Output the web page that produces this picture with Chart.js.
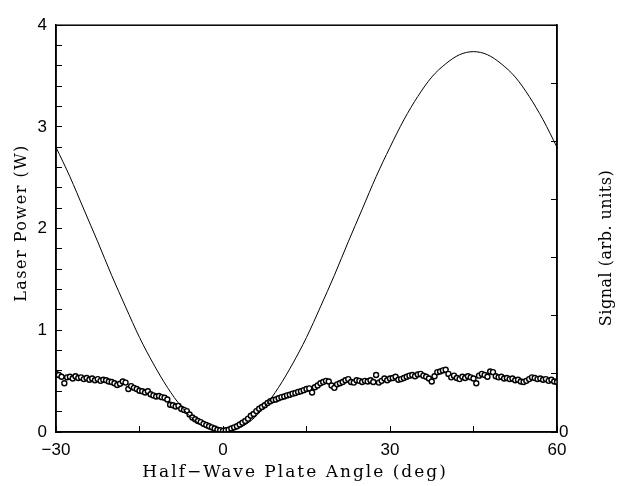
<!DOCTYPE html>
<html>
<head>
<meta charset="utf-8">
<script src="https://cdn.jsdelivr.net/npm/chart.js@4/dist/chart.umd.min.js"></script>
<style>
  html, body { margin: 0; padding: 0; background: #fff; }
  canvas { display: block; }
</style>
</head>
<body>
<canvas id="chart" width="623" height="486"></canvas>
<script>
// Laser power curve (left axis, W)
const powerAngle = [-30, -27.5, -25, -22.5, -20, -17.5, -15, -12.5, -10, -7.5, -5, -2.5, 0,
  2.5, 5, 7.5, 10, 12.5, 15, 17.5, 20, 22.5, 25, 27.5, 30, 32.5, 35, 37.5, 40, 42.5, 45,
  47.5, 50, 52.5, 55, 57.5, 60];
const powerValue = [2.80, 2.51, 2.19, 1.87, 1.54, 1.23, 0.93, 0.67, 0.44, 0.25, 0.11, 0.03, 0.0,
  0.03, 0.11, 0.25, 0.44, 0.67, 0.93, 1.23, 1.54, 1.87, 2.19, 2.51, 2.80, 3.07, 3.30, 3.49, 3.62, 3.71, 3.74,
  3.71, 3.62, 3.49, 3.30, 3.07, 2.80];

// Signal points (right axis, arb. units)
const signalAngle = [
  -30, -29.5, -29, -28.5, -28, -27.5, -27, -26.5, -26, -25.5,
  -25, -24.5, -24, -23.5, -23, -22.5, -22, -21.5, -21, -20.5,
  -20, -19.5, -19, -18.5, -18, -17.5, -17, -16.5, -16, -15.5,
  -15, -14.5, -14, -13.5, -13, -12.5, -12, -11.5, -11, -10.5,
  -10, -9.5, -9, -8.5, -8, -7.5, -7, -6.5, -6, -5.5,
  -5, -4.5, -4, -3.5, -3, -2.5, -2, -1.5, -1, -0.5,
  0, 0.5, 1, 1.5, 2, 2.5, 3, 3.5, 4, 4.5,
  5, 5.5, 6, 6.5, 7, 7.5, 8, 8.5, 9, 9.5,
  10, 10.5, 11, 11.5, 12, 12.5, 13, 13.5, 14, 14.5,
  15, 15.5, 16, 16.5, 17, 17.5, 18, 18.5, 19, 19.5,
  20, 20.5, 21, 21.5, 22, 22.5, 23, 23.5, 24, 24.5,
  25, 25.5, 26, 26.5, 27, 27.5, 28, 28.5, 29, 29.5,
  30, 30.5, 31, 31.5, 32, 32.5, 33, 33.5, 34, 34.5,
  35, 35.5, 36, 36.5, 37, 37.5, 38, 38.5, 39, 39.5,
  40, 40.5, 41, 41.5, 42, 42.5, 43, 43.5, 44, 44.5,
  45, 45.5, 46, 46.5, 47, 47.5, 48, 48.5, 49, 49.5,
  50, 50.5, 51, 51.5, 52, 52.5, 53, 53.5, 54, 54.5,
  55, 55.5, 56, 56.5, 57, 57.5, 58, 58.5, 59, 59.5, 60];
const signalValue = [
  1.00, 0.98, 0.95, 0.84, 0.94, 0.95, 0.92, 0.96, 0.93, 0.94,
  0.91, 0.93, 0.90, 0.92, 0.89, 0.91, 0.88, 0.90, 0.89, 0.87,
  0.86, 0.84, 0.81, 0.83, 0.87, 0.85, 0.74, 0.79, 0.76, 0.74,
  0.71, 0.70, 0.68, 0.70, 0.65, 0.63, 0.61, 0.62, 0.60, 0.59,
  0.56, 0.47, 0.46, 0.44, 0.45, 0.40, 0.38, 0.36, 0.30, 0.25,
  0.22, 0.19, 0.17, 0.14, 0.12, 0.10, 0.08, 0.06, 0.04, 0.03,
  0.02, 0.03, 0.04, 0.06, 0.08, 0.10, 0.13, 0.16, 0.19, 0.23,
  0.28, 0.31, 0.36, 0.40, 0.43, 0.46, 0.50, 0.53, 0.55, 0.56,
  0.58, 0.60, 0.61, 0.63, 0.64, 0.66, 0.67, 0.69, 0.70, 0.72,
  0.74, 0.75, 0.68, 0.77, 0.80, 0.84, 0.86, 0.88, 0.87, 0.80,
  0.76, 0.82, 0.84, 0.86, 0.89, 0.91, 0.86, 0.85, 0.89, 0.88,
  0.86, 0.88, 0.87, 0.89, 0.86, 0.98, 0.85, 0.88, 0.92, 0.89,
  0.92, 0.93, 0.95, 0.90, 0.91, 0.93, 0.95, 0.97, 0.98, 0.96,
  0.99, 1.00, 0.97, 0.95, 0.92, 0.87, 0.96, 1.03, 1.04, 1.06,
  1.07, 1.00, 0.94, 0.97, 0.93, 0.91, 0.95, 0.93, 0.96, 0.94,
  0.92, 0.84, 0.97, 1.00, 0.98, 0.95, 1.04, 1.03, 0.96, 0.94,
  0.95, 0.92, 0.93, 0.91, 0.92, 0.89, 0.90, 0.87, 0.86, 0.88,
  0.91, 0.94, 0.93, 0.91, 0.92, 0.90, 0.91, 0.88, 0.90, 0.87, 0.86];

const xLabels = [-30, 0, 30, 60];
const leftLabels = [0, 1, 2, 3, 4];
const rightLabels = [0];

const tickFont = { family: 'Liberation Sans', size: 17 };

// Axis titles drawn by hand so they can be letter-spaced like the original
const titles = [
  { text: 'Half\u2212Wave Plate Angle (deg)', x: 295, y: 473, rot: 0, size: 17, spacing: '2px' },
  { text: 'Laser Power (W)', x: 22, y: 223, rot: -Math.PI / 2, size: 16, spacing: '1.5px' },
  { text: 'Signal (arb. units)', x: 607, y: 248, rot: -Math.PI / 2, size: 16, spacing: '0.5px' }
];

const framePlugin = {
  id: 'frame',
  afterDraw(chart) {
    const { ctx, chartArea: a } = chart;
    ctx.save();
    ctx.strokeStyle = '#000';
    ctx.lineWidth = 1.5;
    ctx.strokeRect(a.left, a.top, a.right - a.left, a.bottom - a.top);
    ctx.restore();
    titles.forEach(t => {
      ctx.save();
      ctx.translate(t.x, t.y);
      ctx.rotate(t.rot);
      ctx.fillStyle = '#000';
      ctx.font = t.size + 'px "DejaVu Serif"';
      ctx.letterSpacing = t.spacing;
      ctx.textAlign = 'center';
      ctx.textBaseline = 'middle';
      ctx.fillText(t.text, 0, 0);
      ctx.restore();
    });
  }
};

const isLabel = (v, list) => list.some(l => Math.abs(l - v) < 1e-6);
const fmt = v => {
  const r = Math.round(v);
  return r < 0 ? '\u2212' + Math.abs(r) : String(r);
};

new Chart(document.getElementById('chart').getContext('2d'), {
  type: 'scatter',
  data: {
    datasets: [
      {
        label: 'Laser Power',
        data: powerAngle.map((a, i) => ({ x: a, y: powerValue[i] })),
        yAxisID: 'y',
        showLine: true,
        borderColor: '#000',
        borderWidth: 1,
        pointRadius: 0,
        cubicInterpolationMode: 'monotone'
      },
      {
        label: 'Signal',
        data: signalAngle.map((a, i) => ({ x: a, y: signalValue[i] })),
        yAxisID: 'y2',
        showLine: false,
        pointRadius: 2.5,
        borderWidth: 1.4,
        borderColor: '#000',
        backgroundColor: '#fff'
      }
    ]
  },
  options: {
    responsive: false,
    animation: false,
    layout: { padding: { top: 14, left: 0, right: 0, bottom: 0 } },
    plugins: { legend: { display: false }, tooltip: { enabled: false } },
    scales: {
      x: {
        type: 'linear',
        position: 'bottom',
        min: -30, max: 60,
        afterFit: s => { s.height = 54; },
        border: { color: '#000', width: 1.5 },
        grid: { drawOnChartArea: false, tickLength: -6, color: '#000', tickWidth: 1 },
        ticks: {
          stepSize: 15, color: '#000', font: tickFont, padding: 14, maxRotation: 0, autoSkip: false,
          callback: v => isLabel(v, xLabels) ? fmt(v) : ''
        }
      },
      y: {
        position: 'left',
        min: 0, max: 4,
        afterFit: s => { s.width = 56; },
        border: { color: '#000', width: 1.5 },
        grid: { drawOnChartArea: false, tickLength: -6, color: '#000', tickWidth: 1 },
        ticks: {
          stepSize: 0.2, color: '#000', font: tickFont, padding: 15, autoSkip: false,
          callback: v => isLabel(v, leftLabels) ? fmt(v) : ''
        }
      },
      y2: {
        position: 'right',
        min: 0, max: 7,
        afterFit: s => { s.width = 66; },
        border: { color: '#000', width: 1.5 },
        grid: { drawOnChartArea: false, tickLength: -6, color: '#000', tickWidth: 1 },
        ticks: {
          stepSize: 1, color: '#000', font: tickFont, padding: 8, autoSkip: false,
          callback: v => isLabel(v, rightLabels) ? fmt(v) : ''
        }
      }
    }
  },
  plugins: [framePlugin]
});
</script>
</body>
</html>
